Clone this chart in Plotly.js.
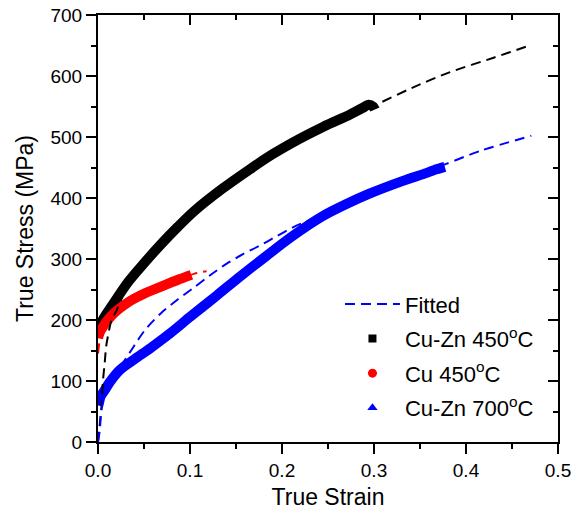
<!DOCTYPE html>
<html><head><meta charset="utf-8">
<script src="https://cdn.plot.ly/plotly-3.0.1.min.js"></script>
<style>html,body{margin:0;padding:0;background:#fff}#chart{width:584px;height:510px}</style>
</head><body><div id="chart"></div>
<script>
// Cu-Zn 450°C measured curve
var cuZn450Strain = [0.003, 0.005, 0.0145, 0.0326, 0.05, 0.069, 0.087, 0.105, 0.135, 0.165, 0.19, 0.219, 0.245, 0.274, 0.288, 0.294, 0.299, 0.301];
var cuZn450Stress = [190, 200, 222, 262, 293, 325, 353, 379, 415, 447, 472, 497, 517, 537, 548, 553, 550, 545];
// Cu 450°C measured curve
var cu450Strain = [0, 0.002, 0.0145, 0.0326, 0.05, 0.069, 0.087, 0.1015];
var cu450Stress = [170, 180, 207, 229, 243, 255, 266, 274];
// Cu-Zn 700°C measured curve
var cuZn700Strain = [0, 0.003, 0.0073, 0.0127, 0.0236, 0.04, 0.058, 0.08, 0.1, 0.129, 0.155, 0.183, 0.21, 0.244, 0.27, 0.295, 0.3315, 0.355, 0.368, 0.377];
var cuZn700Stress = [60, 75, 85, 98, 118, 136, 155, 180, 205, 240, 272, 305, 336, 370, 390, 407, 428, 440, 447, 451];
// Fitted curves
var fitBlackStrain = [0, 0.002, 0.0037, 0.0054, 0.0073, 0.009, 0.0127, 0.0145, 0.02, 0.0326, 0.05, 0.069, 0.105, 0.165, 0.219, 0.274, 0.299, 0.342, 0.382, 0.43, 0.471];
var fitBlackStress = [0, 30, 57, 100, 130, 158, 188, 199, 215, 258, 292, 325, 380, 447, 497, 537, 551, 581, 606, 630, 651];
var fitRedStrain = [0, 0.002, 0.005, 0.0145, 0.0326, 0.05, 0.069, 0.087, 0.105, 0.118];
var fitRedStress = [145, 168, 185, 207, 229, 243, 255, 266, 276, 280];
var fitBlueStrain = [0, 0.002, 0.0037, 0.009, 0.0217, 0.036, 0.0508, 0.069, 0.087, 0.105, 0.1215, 0.1395, 0.1576, 0.1758, 0.1939, 0.212, 0.2301, 0.244, 0.27, 0.295, 0.33, 0.36, 0.3786, 0.415, 0.471];
var fitBlueStress = [0, 20, 52, 82, 117, 150, 183, 212, 234, 254, 273, 292, 308, 322, 337, 352, 364, 373, 391, 408, 430, 446, 456, 477, 502];
// Legend labels
var seriesNames = ['Fitted', 'Cu-Zn 450<sup>o</sup>C', 'Cu 450<sup>o</sup>C', 'Cu-Zn 700<sup>o</sup>C'];

var BLACK = '#000000', RED = '#ff0000', BLUE = '#0000ff';
var DASH = '10px,6px';
function band(c) { return {color: c, width: 10, shape: 'spline', smoothing: 0.8}; }
function fit(c) { return {color: c, width: 2, dash: DASH, shape: 'spline', smoothing: 0.8}; }

var traces = [
  {x: cuZn450Strain, y: cuZn450Stress, mode: 'lines', line: band(BLACK), showlegend: false, hoverinfo: 'skip'},
  {x: cu450Strain, y: cu450Stress, mode: 'lines', line: band(RED), showlegend: false, hoverinfo: 'skip'},
  {x: cuZn700Strain, y: cuZn700Stress, mode: 'lines', line: band(BLUE), showlegend: false, hoverinfo: 'skip'},
  {x: fitRedStrain, y: fitRedStress, mode: 'lines', line: fit(RED), showlegend: false, hoverinfo: 'skip'},
  {x: fitBlackStrain, y: fitBlackStress, mode: 'lines', line: fit(BLACK), showlegend: false, hoverinfo: 'skip'},
  {x: fitBlueStrain, y: fitBlueStress, mode: 'lines', line: fit(BLUE), name: seriesNames[0], legendgroup: 'a', legendrank: 1},
  {x: [null], y: [null], mode: 'markers', marker: {color: BLACK, symbol: 'square', size: 8}, name: seriesNames[1], legendgroup: 'b', legendrank: 2},
  {x: [null], y: [null], mode: 'markers', marker: {color: RED, symbol: 'circle', size: 9}, name: seriesNames[2], legendgroup: 'c', legendrank: 3},
  {x: [null], y: [null], mode: 'markers', marker: {color: BLUE, symbol: 'triangle-up', size: 9}, name: seriesNames[3], legendgroup: 'd', legendrank: 4},
  {x: [null], y: [null], xaxis: 'x2', yaxis: 'y2', mode: 'markers', showlegend: false, hoverinfo: 'skip'}
];

var axCommon = {showgrid: false, zeroline: false, showline: true, linewidth: 2, linecolor: BLACK,
  tickwidth: 2, tickcolor: BLACK, ticklen: 10};

var layout = {
  width: 584, height: 510,
  margin: {l: 98, r: 26, t: 15, b: 68},
  paper_bgcolor: '#fff', plot_bgcolor: '#fff',
  font: {family: '"Liberation Sans", Arial, sans-serif', color: BLACK},
  xaxis: Object.assign({}, axCommon, {range: [0, 0.5], dtick: 0.1, tick0: 0, tickformat: '.1f', ticks: 'outside',
    tickfont: {size: 19}, title: {text: 'True Strain', font: {size: 23}, standoff: 15},
    minor: {dtick: 0.05, ticks: 'outside', ticklen: 5, tickwidth: 2, tickcolor: BLACK, showgrid: false}}),
  yaxis: Object.assign({}, axCommon, {range: [0, 700], dtick: 100, tick0: 0, ticks: 'outside',
    tickfont: {size: 19}, title: {text: 'True Stress (MPa)', font: {size: 23}, standoff: 10},
    minor: {dtick: 50, ticks: 'outside', ticklen: 5, tickwidth: 2, tickcolor: BLACK, showgrid: false}}),
  xaxis2: Object.assign({}, axCommon, {range: [0, 0.5], dtick: 0.1, tick0: 0, ticks: 'inside', side: 'top',
    overlaying: 'x', anchor: 'y2', showticklabels: false,
    minor: {dtick: 0.05, ticks: 'inside', ticklen: 5, tickwidth: 2, tickcolor: BLACK, showgrid: false}}),
  yaxis2: Object.assign({}, axCommon, {range: [0, 700], dtick: 100, tick0: 0, ticks: 'inside', side: 'right',
    overlaying: 'y', anchor: 'x2', showticklabels: false,
    minor: {dtick: 50, ticks: 'inside', ticklen: 5, tickwidth: 2, tickcolor: BLACK, showgrid: false}}),
  legend: {x: 0.526, xanchor: 'left', y: 0.372, yanchor: 'top', font: {size: 22, color: BLACK},
    bgcolor: 'rgba(0,0,0,0)', borderwidth: 0, itemwidth: 55, tracegroupgap: 3},
  showlegend: true
};

Plotly.newPlot('chart', traces, layout, {displayModeBar: false, staticPlot: true});
</script></body></html>
